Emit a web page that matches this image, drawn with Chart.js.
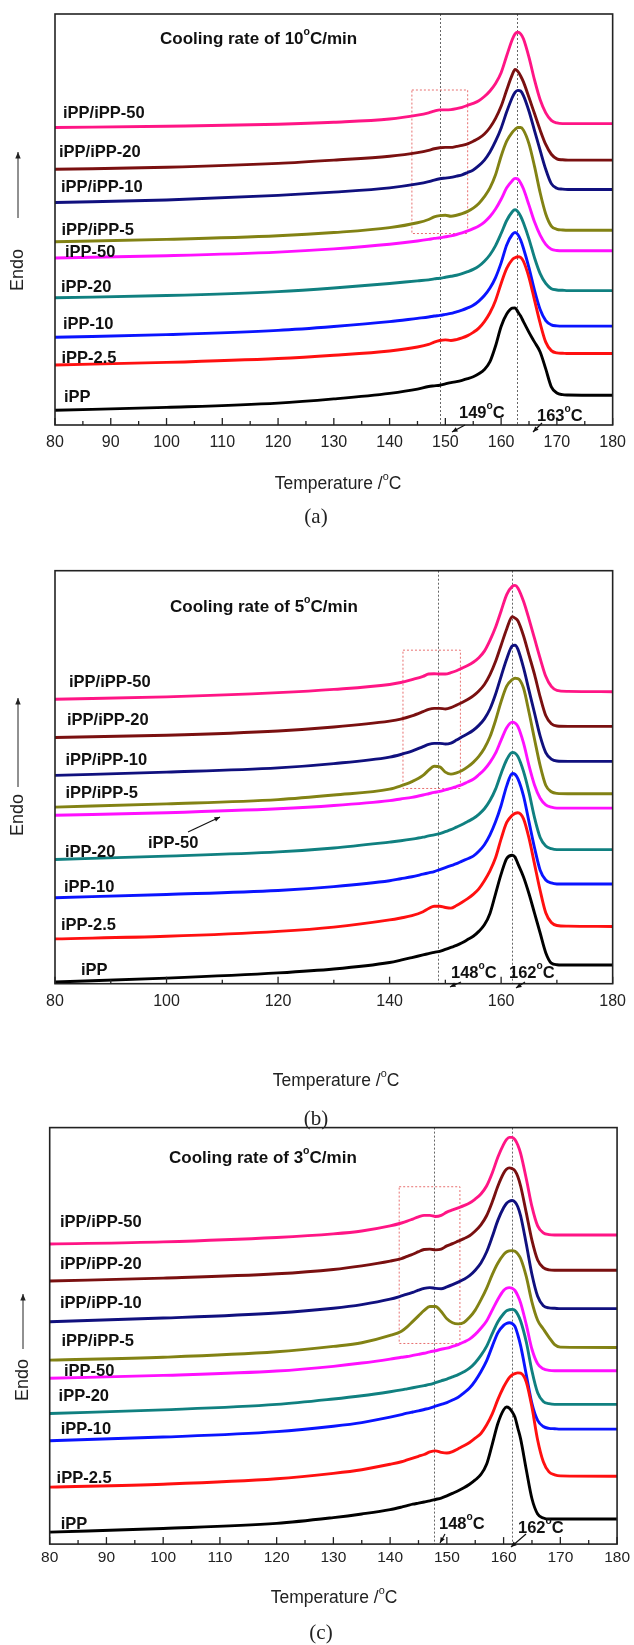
<!DOCTYPE html>
<html>
<head>
<meta charset="utf-8">
<script src="https://cdn.jsdelivr.net/npm/chart.js@4.4.0/dist/chart.umd.min.js"></script>
<style>
  body { margin: 0; background: #fff; width: 634px; height: 1645px; position: relative; overflow: hidden; }
  canvas { position: absolute; left: 0; }
</style>
</head>
<body>
<canvas id="chartA" width="634" height="540" style="top:0px"></canvas>
<canvas id="chartB" width="634" height="600" style="top:540px"></canvas>
<canvas id="chartC" width="634" height="545" style="top:1100px"></canvas>
<script>
// curve order: bottom to top
const seriesNames = ['iPP', 'iPP-2.5', 'iPP-10', 'iPP-20', 'iPP-50', 'iPP/iPP-5', 'iPP/iPP-10', 'iPP/iPP-20', 'iPP/iPP-50'];
const seriesColors = ['#000000', '#ff1010', '#0a14ff', '#108080', '#ff10ff', '#828214', '#10107e', '#7a1010', '#ff1585'];

// ---- (a) cooling rate 10 C/min ----
const tempsA = [80, 100, 120, 130, 140, 145, 147, 148, 149, 150, 151, 152, 153, 154, 155, 156, 157, 158, 159, 160, 161, 162, 162.5, 163, 163.5, 164, 165, 166, 167, 168, 169, 170, 171, 172, 180];
const a_iPP = [45, 54, 67, 80, 97, 110, 118, 120, 122, 126, 130, 133, 137, 142, 148, 157, 170, 194, 242, 302, 340, 358, 359, 347, 334, 317, 284, 254, 224, 172, 117, 98, 93, 92, 91];
const a_iPP2_5 = [184, 192, 204, 214, 227, 239, 247, 254, 259, 261, 259, 262, 267, 274, 284, 297, 317, 344, 382, 434, 480, 507, 513, 516, 514, 502, 452, 382, 312, 254, 228, 221, 220, 219, 219];
const a_iPP10 = [269, 277, 290, 302, 317, 327, 331, 334, 336, 339, 342, 347, 352, 359, 367, 380, 397, 420, 452, 497, 552, 584, 590, 584, 567, 542, 482, 412, 354, 320, 307, 304, 303, 303, 303];
const a_iPP20 = [390, 397, 409, 420, 434, 442, 445, 448, 450, 453, 456, 459, 464, 470, 477, 487, 502, 522, 550, 587, 627, 654, 660, 654, 640, 620, 570, 512, 464, 434, 418, 414, 413, 412, 412];
const a_iPP50 = [512, 519, 530, 540, 554, 564, 569, 572, 574, 577, 580, 584, 589, 595, 602, 610, 622, 639, 662, 692, 727, 749, 756, 754, 742, 724, 674, 622, 582, 554, 539, 535, 534, 534, 534];
const a_blend5 = [562, 569, 580, 590, 605, 620, 630, 638, 642, 643, 640, 643, 648, 655, 665, 679, 700, 727, 767, 824, 870, 897, 906, 912, 912, 904, 862, 792, 712, 647, 610, 600, 598, 597, 597];
const a_blend10 = [682, 690, 704, 714, 727, 739, 746, 751, 755, 757, 759, 763, 767, 774, 782, 795, 812, 837, 870, 910, 960, 1004, 1020, 1026, 1024, 1010, 962, 902, 842, 784, 740, 726, 723, 722, 722];
const a_blend20 = [784, 790, 802, 812, 824, 835, 842, 847, 850, 851, 851, 854, 857, 862, 870, 879, 892, 912, 940, 977, 1027, 1074, 1090, 1084, 1070, 1052, 1004, 954, 904, 860, 830, 816, 813, 812, 812];
const a_blend50 = [912, 916, 922, 928, 938, 950, 957, 962, 966, 966, 967, 970, 974, 980, 986, 994, 1007, 1024, 1047, 1080, 1132, 1182, 1199, 1204, 1199, 1184, 1127, 1057, 997, 957, 934, 926, 924, 924, 924];

// ---- (b) cooling rate 5 C/min ----
const tempsB = [80, 100, 120, 130, 140, 142, 144, 146, 147, 148, 149, 150, 151, 152, 153, 154, 155, 156, 157, 158, 159, 160, 161, 162, 162.5, 163, 164, 165, 166, 167, 168, 169, 170, 172, 180];
const b_iPP = [5, 17, 33, 45, 65, 72, 80, 88, 92, 96, 99, 105, 111, 117, 125, 135, 145, 160, 180, 215, 275, 335, 383, 393, 387, 367, 327, 275, 215, 155, 95, 63, 58, 57, 57];
const b_iPP2_5 = [137, 145, 160, 173, 195, 201, 208, 220, 230, 237, 237, 233, 231, 239, 249, 260, 273, 290, 315, 345, 385, 443, 493, 515, 521, 523, 505, 445, 365, 285, 217, 187, 178, 176, 175];
const b_iPP10 = [263, 273, 285, 297, 315, 321, 327, 335, 339, 343, 349, 355, 361, 367, 375, 382, 390, 405, 425, 455, 495, 545, 605, 643, 640, 627, 575, 495, 415, 347, 317, 308, 305, 305, 305];
const b_iPP20 = [380, 390, 403, 415, 433, 437, 442, 448, 452, 455, 459, 465, 471, 479, 487, 496, 505, 518, 535, 560, 595, 643, 685, 707, 705, 695, 650, 585, 507, 447, 421, 413, 410, 410, 410];
const b_iPP50 = [515, 523, 535, 545, 560, 565, 570, 577, 581, 585, 588, 593, 597, 603, 609, 617, 625, 639, 655, 677, 705, 745, 783, 800, 797, 787, 737, 667, 607, 567, 547, 540, 537, 537, 537];
const b_blend5 = [540, 550, 563, 577, 595, 605, 618, 637, 653, 665, 663, 647, 641, 645, 652, 663, 677, 695, 720, 755, 805, 863, 910, 930, 934, 933, 905, 830, 747, 667, 607, 587, 582, 581, 581];
const b_blend10 = [637, 647, 660, 673, 693, 701, 711, 725, 732, 735, 735, 733, 736, 745, 755, 764, 775, 790, 810, 840, 885, 940, 993, 1033, 1035, 1023, 967, 897, 827, 757, 707, 687, 681, 680, 680];
const b_blend20 = [753, 760, 773, 785, 803, 809, 819, 832, 839, 842, 842, 840, 844, 852, 860, 869, 880, 895, 915, 945, 985, 1035, 1085, 1122, 1118, 1110, 1065, 1005, 945, 877, 820, 795, 788, 787, 787];
const b_blend50 = [870, 877, 890, 900, 915, 921, 930, 940, 947, 948, 947, 947, 951, 957, 965, 973, 983, 997, 1017, 1050, 1090, 1140, 1190, 1215, 1218, 1210, 1170, 1115, 1055, 995, 940, 909, 897, 894, 893];

// ---- (c) cooling rate 3 C/min ----
const tempsC = [80, 100, 120, 130, 135, 140, 142, 143, 144, 145, 146, 147, 148, 149, 150, 151, 152, 153, 154, 155, 156, 157, 158, 159, 160, 160.5, 161, 161.5, 162, 162.5, 163, 164, 165, 166, 167, 168, 169, 170, 180];
const c_iPP = [33, 43, 57, 73, 83, 95, 102, 106, 110, 113, 116, 119, 123, 127, 133, 140, 147, 155, 165, 177, 192, 220, 275, 333, 370, 378, 375, 365, 350, 320, 290, 205, 125, 83, 72, 69, 69, 69, 69];
const c_iPP2_5 = [157, 165, 180, 195, 205, 220, 227, 232, 237, 242, 247, 254, 257, 253, 251, 255, 263, 271, 280, 292, 305, 328, 359, 399, 433, 447, 459, 466, 470, 472, 471, 447, 377, 287, 227, 199, 191, 188, 187];
const c_iPP10 = [285, 295, 310, 325, 335, 350, 357, 361, 364, 367, 371, 375, 380, 385, 390, 397, 405, 417, 430, 450, 475, 505, 545, 583, 603, 608, 610, 608, 600, 577, 547, 467, 387, 341, 324, 319, 318, 317, 317];
const c_iPP20 = [360, 370, 385, 400, 409, 420, 425, 428, 431, 434, 437, 440, 445, 450, 455, 461, 467, 475, 485, 500, 520, 545, 580, 613, 635, 643, 646, 647, 644, 633, 615, 557, 477, 417, 393, 387, 385, 385, 385];
const c_iPP50 = [457, 465, 477, 490, 499, 510, 515, 517, 520, 523, 526, 530, 533, 537, 540, 545, 550, 557, 565, 578, 595, 615, 645, 675, 699, 705, 707, 705, 699, 685, 665, 605, 537, 497, 483, 479, 478, 478, 478];
const c_blend5 = [507, 515, 530, 545, 555, 575, 587, 599, 614, 629, 644, 655, 655, 641, 621, 610, 607, 611, 625, 645, 673, 705, 743, 775, 798, 805, 808, 809, 807, 800, 787, 737, 667, 617, 593, 570, 550, 543, 542];
const c_blend10 = [613, 623, 637, 650, 660, 675, 684, 689, 694, 700, 705, 707, 705, 704, 709, 715, 722, 730, 740, 755, 775, 805, 847, 893, 927, 939, 945, 947, 943, 930, 905, 827, 743, 683, 657, 651, 650, 649, 649];
const c_blend20 = [725, 733, 745, 757, 767, 780, 787, 793, 799, 806, 812, 813, 811, 813, 822, 828, 835, 842, 850, 863, 880, 905, 943, 987, 1022, 1033, 1037, 1035, 1029, 1013, 987, 913, 837, 783, 762, 756, 755, 755, 755];
const c_blend50 = [827, 833, 845, 855, 863, 877, 885, 890, 896, 902, 906, 906, 903, 906, 915, 921, 927, 933, 940, 951, 965, 987, 1023, 1067, 1102, 1115, 1121, 1121, 1115, 1100, 1077, 1007, 930, 877, 858, 853, 852, 852, 852];

// marker lines (deg C) and the dotted red boxes [tMin, tMax, yMin, yMax]
const markA = [149.1, 162.8], markB = [148.6, 161.9], markC = [147.7, 161.5];
const boxA = [144, 154, 587, 1027], boxB = [142.4, 152.7, 597, 1020], boxC = [141.6, 152.3, 553, 985];

const FONT = "'Liberation Sans', Arial, sans-serif";

// text with superscript parts: parts = [[text, isSup], ...]
function richText(ctx, parts, x, y, size, weight, align) {
  const f = s => weight + ' ' + s + 'px ' + FONT;
  let w = 0;
  parts.forEach(p => { ctx.font = f(p[1] ? size * 0.62 : size); w += ctx.measureText(p[0]).width; });
  let cx = align === 'center' ? x - w / 2 : x;
  ctx.textBaseline = 'middle';
  ctx.textAlign = 'left';
  parts.forEach(p => {
    ctx.font = f(p[1] ? size * 0.62 : size);
    ctx.fillText(p[0], cx, p[1] ? y - size * 0.42 : y);
    cx += ctx.measureText(p[0]).width;
  });
}

function arrow(ctx, x1, y1, x2, y2, head) {
  ctx.beginPath(); ctx.moveTo(x1, y1); ctx.lineTo(x2, y2); ctx.stroke();
  const a = Math.atan2(y2 - y1, x2 - x1);
  ctx.beginPath();
  ctx.moveTo(x2, y2);
  ctx.lineTo(x2 - head * Math.cos(a - 0.4), y2 - head * Math.sin(a - 0.4));
  ctx.lineTo(x2 - head * Math.cos(a + 0.4), y2 - head * Math.sin(a + 0.4));
  ctx.closePath(); ctx.fill();
}

function makeChart(id, temps, series, cfg) {
  const datasets = series.map((vals, i) => ({
    label: seriesNames[i],
    data: vals.map((v, j) => ({ x: temps[j], y: v })),
    borderColor: seriesColors[i],
    borderWidth: 2.9,
    pointRadius: 0,
    cubicInterpolationMode: 'monotone',
    fill: false
  }));

  const deco = {
    id: 'deco' + id,
    beforeDatasetsDraw(chart) {
      const { ctx, chartArea: ca, scales: { x, y } } = chart;
      ctx.save();
      ctx.strokeStyle = '#666';
      ctx.lineWidth = 1;
      ctx.setLineDash([2, 2]);
      cfg.marks.forEach(t => {
        const px = Math.round(x.getPixelForValue(t)) + 0.5;
        ctx.beginPath(); ctx.moveTo(px, ca.top); ctx.lineTo(px, ca.bottom); ctx.stroke();
      });
      const b = cfg.box;
      ctx.strokeStyle = '#e87070';
      const bx1 = x.getPixelForValue(b[0]), bx2 = x.getPixelForValue(b[1]);
      const by1 = y.getPixelForValue(b[3]), by2 = y.getPixelForValue(b[2]);
      ctx.strokeRect(bx1, by1, bx2 - bx1, by2 - by1);
      ctx.restore();
    },
    afterDraw(chart) {
      const { ctx, chartArea: ca, scales: { x } } = chart;
      ctx.save();
      // inward ticks
      ctx.strokeStyle = '#222';
      ctx.lineWidth = 1.3;
      for (let t = 80; t <= 180; t += cfg.tickStep) {
        const px = x.getPixelForValue(t);
        const len = t % cfg.majorStep === 0 ? 7 : 4;
        ctx.beginPath(); ctx.moveTo(px, ca.bottom); ctx.lineTo(px, ca.bottom - len); ctx.stroke();
      }
      // frame
      ctx.lineWidth = 1.6;
      ctx.strokeRect(ca.left, ca.top, ca.right - ca.left, ca.bottom - ca.top);

      ctx.fillStyle = '#111';
      richText(ctx, cfg.title, cfg.titlePos[0], cfg.titlePos[1], 17, 'bold', 'left');
      cfg.labels.forEach((lb, i) => {
        richText(ctx, [[lb, false]], cfg.labelPos[i][0], cfg.labelPos[i][1], 16.5, 'bold', 'left');
      });
      cfg.extraLabels.forEach(e => richText(ctx, e.parts, e.x, e.y, 16.5, 'bold', 'left'));
      ctx.strokeStyle = '#111';
      ctx.lineWidth = 1.2;
      cfg.arrows.forEach(a => arrow(ctx, a[0], a[1], a[2], a[3], 6));

      // axis title and caption
      ctx.fillStyle = '#222';
      richText(ctx, [['Temperature /', false], ['o', true], ['C', false]], cfg.axisTitle[0], cfg.axisTitle[1], 17.5, 'normal', 'center');
      ctx.font = '21px "Liberation Serif", "Times New Roman", serif';
      ctx.textAlign = 'center'; ctx.textBaseline = 'middle';
      ctx.fillText(cfg.caption, cfg.captionPos[0], cfg.captionPos[1]);

      // Endo label with arrow
      ctx.save();
      ctx.translate(cfg.endo[0], cfg.endo[1]);
      ctx.rotate(-Math.PI / 2);
      ctx.font = '18px ' + FONT;
      ctx.fillText('Endo', 0, 0);
      ctx.restore();
      ctx.strokeStyle = '#222'; ctx.fillStyle = '#222'; ctx.lineWidth = 1;
      arrow(ctx, cfg.endo[0], cfg.endoArrow[0], cfg.endo[0], cfg.endoArrow[1], 7);
      ctx.restore();
    }
  };

  return new Chart(document.getElementById(id), {
    type: 'line',
    data: { datasets },
    options: {
      responsive: false,
      animation: false,
      layout: { padding: cfg.padding },
      plugins: { legend: { display: false }, tooltip: { enabled: false } },
      scales: {
        x: {
          type: 'linear', min: 80, max: 180,
          afterBuildTicks: ax => {
            const t = [];
            for (let v = 80; v <= 180; v += cfg.tickStep) t.push({ value: v });
            ax.ticks = t;
          },
          ticks: {
            autoSkip: false, maxRotation: 0, padding: cfg.tickPad, color: '#222',
            font: { family: FONT, size: cfg.tickSize },
            callback: v => (v % cfg.labelStep === 0 ? String(v) : '')
          },
          grid: { display: false, drawTicks: false },
          border: { display: false }
        },
        y: { display: false, min: 0, max: cfg.ymax }
      }
    },
    plugins: [deco]
  });
}

const curveLabels = ['iPP', 'iPP-2.5', 'iPP-10', 'iPP-20', 'iPP-50', 'iPP/iPP-5', 'iPP/iPP-10', 'iPP/iPP-20', 'iPP/iPP-50'];

makeChart('chartA', tempsA,
  [a_iPP, a_iPP2_5, a_iPP10, a_iPP20, a_iPP50, a_blend5, a_blend10, a_blend20, a_blend50], {
  padding: { left: 55, right: 12, top: 14, bottom: 79.8 },
  ymax: 1260, tickStep: 5, majorStep: 10, labelStep: 10, tickPad: 8, tickSize: 16,
  marks: markA, box: boxA,
  title: [['Cooling rate of 10', false], ['o', true], ['C/min', false]], titlePos: [160, 39],
  labels: curveLabels,
  labelPos: [[64, 397], [61.5, 358], [63, 324], [61, 287], [65, 252], [61.5, 230], [61, 187], [59, 152], [63, 113]],
  extraLabels: [
    { parts: [['149', false], ['o', true], ['C', false]], x: 459, y: 413 },
    { parts: [['163', false], ['o', true], ['C', false]], x: 537, y: 416 }
  ],
  arrows: [[465, 425, 452, 432], [542, 423, 533, 432]],
  axisTitle: [338, 484], caption: '(a)', captionPos: [316, 517],
  endo: [18, 270], endoArrow: [218, 152]
});

makeChart('chartB', tempsB,
  [b_iPP, b_iPP2_5, b_iPP10, b_iPP20, b_iPP50, b_blend5, b_blend10, b_blend20, b_blend50], {
  padding: { left: 55, right: 12, top: 30.7, bottom: 121.1 },
  ymax: 1263, tickStep: 10, majorStep: 20, labelStep: 20, tickPad: 8, tickSize: 16,
  marks: markB, box: boxB,
  title: [['Cooling rate of 5', false], ['o', true], ['C/min', false]], titlePos: [170, 67],
  labels: ['iPP', 'iPP-2.5', 'iPP-10', 'iPP-20', '', 'iPP/iPP-5', 'iPP/iPP-10', 'iPP/iPP-20', 'iPP/iPP-50'],
  labelPos: [[81, 430], [61, 385], [64, 347], [65, 312], [0, 0], [65.5, 253], [65.5, 220], [67, 180], [69, 142]],
  extraLabels: [
    { parts: [['iPP-50', false]], x: 148, y: 303 },
    { parts: [['148', false], ['o', true], ['C', false]], x: 451, y: 433 },
    { parts: [['162', false], ['o', true], ['C', false]], x: 509, y: 433 }
  ],
  arrows: [[188, 292, 220, 277], [461, 442, 450, 447], [525, 442, 516, 448]],
  axisTitle: [336, 541], caption: '(b)', captionPos: [316, 579],
  endo: [18, 275], endoArrow: [247, 158]
});

makeChart('chartC', tempsC,
  [c_iPP, c_iPP2_5, c_iPP10, c_iPP20, c_iPP50, c_blend5, c_blend10, c_blend20, c_blend50], {
  padding: { left: 49.7, right: 16.5, top: 27.6, bottom: 74.3 },
  ymax: 1148, tickStep: 5, majorStep: 10, labelStep: 10, tickPad: 4, tickSize: 15.5,
  marks: markC, box: boxC,
  title: [['Cooling rate of 3', false], ['o', true], ['C/min', false]], titlePos: [169, 58],
  labels: curveLabels,
  labelPos: [[60.7, 424], [56.6, 378], [60.7, 329], [58.6, 296], [64, 271], [61.5, 241], [60, 203], [60, 164], [60, 122]],
  extraLabels: [
    { parts: [['148', false], ['o', true], ['C', false]], x: 439, y: 424 },
    { parts: [['162', false], ['o', true], ['C', false]], x: 518, y: 428 }
  ],
  arrows: [[445, 434, 440, 443], [526, 434, 511, 447]],
  axisTitle: [334, 498], caption: '(c)', captionPos: [321, 533],
  endo: [23, 280], endoArrow: [249, 194]
});
</script>
</body>
</html>
